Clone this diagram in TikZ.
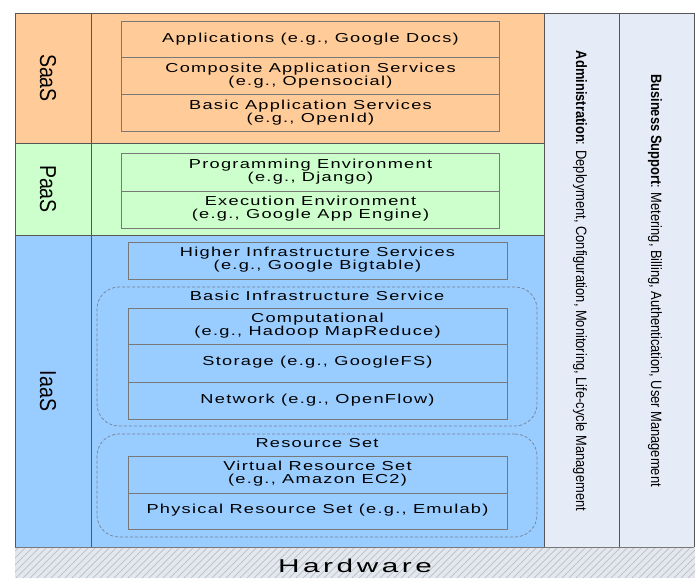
\documentclass[tikz,border=0pt]{standalone}
\usepackage{fontspec}
\usepackage{graphicx}
\setmainfont{Liberation Sans}
\newfontfamily\boxfont[LetterSpace=7]{Liberation Sans}
\newfontfamily\hwfont[LetterSpace=12]{Liberation Sans}
\newcommand\bxt[1]{\scalebox{1.4}[1]{\boxfont\fontsize{13}{12.5}\selectfont\begin{tabular}{@{}c@{}}#1\end{tabular}}}
\newcommand\narrowtxt[1]{\scalebox{0.86}[1]{#1}}
\definecolor{saas}{RGB}{255,204,153}
\definecolor{paas}{RGB}{204,255,204}
\definecolor{iaas}{RGB}{153,204,255}
\definecolor{side}{RGB}{230,236,247}
\definecolor{hwbg}{RGB}{228,232,238}
\definecolor{hwline}{RGB}{190,196,206}
\definecolor{frame}{RGB}{85,85,85}
\definecolor{boxline}{RGB}{120,120,120}
\definecolor{dashline}{RGB}{120,130,145}
\begin{document}
\begin{tikzpicture}[x=1pt,y=-1pt,
  framel/.style={draw=frame, line width=0.9pt},
  box/.style={draw=boxline, line width=0.8pt, inner sep=0pt, minimum width=379pt, text=black},
  group/.style={draw=dashline, line width=0.7pt, dash pattern=on 3pt off 2pt, rounded corners=22pt, minimum width=440pt, inner sep=0pt},
  grouplabel/.style={inner sep=0pt},
  sidelabel/.style={rotate=-90, inner sep=0pt, font=\fontsize{23}{23}\selectfont},
  colabel/.style={rotate=-90, inner sep=0pt, font=\fontsize{15}{15}\selectfont}]
\useasboundingbox (0,0) rectangle (700,578);
\fill[white] (0,0) rectangle (700,578);
% layer backgrounds
\fill[saas] (15,13) rectangle (544,143);
\fill[paas] (15,143) rectangle (544,235);
\fill[iaas] (15,235) rectangle (544,547);
\fill[side] (544,13) rectangle (694,547);
% hardware
\begin{scope}
\clip (15,547) rectangle (695,578);
\fill[hwbg] (15,547) rectangle (695,578);
\foreach \i in {-40,-33,...,700} \draw[hwline, line width=0.8pt] (\i,578) -- ++(31,-31);
\end{scope}
% frame
\draw[framel] (15,547) -- (15,13) -- (694,13) -- (694,547);
\draw[framel] (91,13) -- (91,547);
\draw[framel] (544,13) -- (544,547);
\draw[framel] (619,13) -- (619,547);
\draw[framel] (15,143) -- (544,143);
\draw[framel] (15,235) -- (544,235);
\draw[draw=boxline, line width=0.9pt] (15,547) -- (694,547);
% side labels
\node[sidelabel] (lsaas) at (48,78) {\scalebox{0.85}[1]{SaaS}};
\node[sidelabel] (lpaas) at (48,189) {\scalebox{0.85}[1]{PaaS}};
\node[sidelabel] (liaas) at (48,391) {\scalebox{0.85}[1]{IaaS}};
% SaaS boxes
\node[box, minimum width=378pt, minimum height=36pt] (apps) at (310.5,39.5) {\bxt{Applications (e.g., Google Docs)}};
\node[box, minimum width=378pt, minimum height=37pt] (comp) at (310.5,76) {\bxt{Composite Application Services\\(e.g., Opensocial)}};
\node[box, minimum width=378pt, minimum height=37pt] (basic) at (310.5,113) {\bxt{Basic Application Services\\(e.g., OpenId)}};
% PaaS boxes
\node[box, minimum width=378pt, minimum height=38pt] (prog) at (310.5,172) {\bxt{Programming Environment\\(e.g., Django)}};
\node[box, minimum width=378pt, minimum height=37pt] (exec) at (310.5,209.5) {\bxt{Execution Environment\\(e.g., Google App Engine)}};
% IaaS
\node[box, minimum height=37pt] (higher) at (317.5,260.5) {\bxt{Higher Infrastructure Services\\(e.g., Google Bigtable)}};
\node[group, minimum height=139pt] (bisgrp) at (317,356.5) {};
\node[grouplabel] (bislab) at (317,298) {\bxt{Basic Infrastructure Service}};
\node[box, minimum height=36pt] (compu) at (317.5,326) {\bxt{Computational\\(e.g., Hadoop MapReduce)}};
\node[box, minimum height=38pt] (stor) at (317.5,363) {\bxt{Storage (e.g., GoogleFS)}};
\node[box, minimum height=37pt] (net) at (317.5,400.5) {\bxt{Network (e.g., OpenFlow)}};
\node[group, minimum height=103pt] (rsgrp) at (317,485.5) {};
\node[grouplabel] (rslab) at (317,445) {\bxt{Resource Set}};
\node[box, minimum height=37pt] (virt) at (317.5,474.5) {\bxt{Virtual Resource Set\\(e.g., Amazon EC2)}};
\node[box, minimum height=36pt] (phys) at (317.5,511) {\bxt{Physical Resource Set (e.g., Emulab)}};
% right columns
\node[colabel] (admin) at (580,281) {\narrowtxt{\textbf{Administration}: Deployment, Configuration, Monitoring, Life-cycle Management}};
\node[colabel] (biz) at (655,280.5) {\narrowtxt{\textbf{Business Support}: Metering, Billing, Authentication, User Management}};
% hardware label
\node[anchor=base, inner sep=0pt] (hw) at (355,572) {\scalebox{1.6}[1]{\hwfont\fontsize{18.6}{18.6}\selectfont Hardware}};
\end{tikzpicture}
\end{document}
